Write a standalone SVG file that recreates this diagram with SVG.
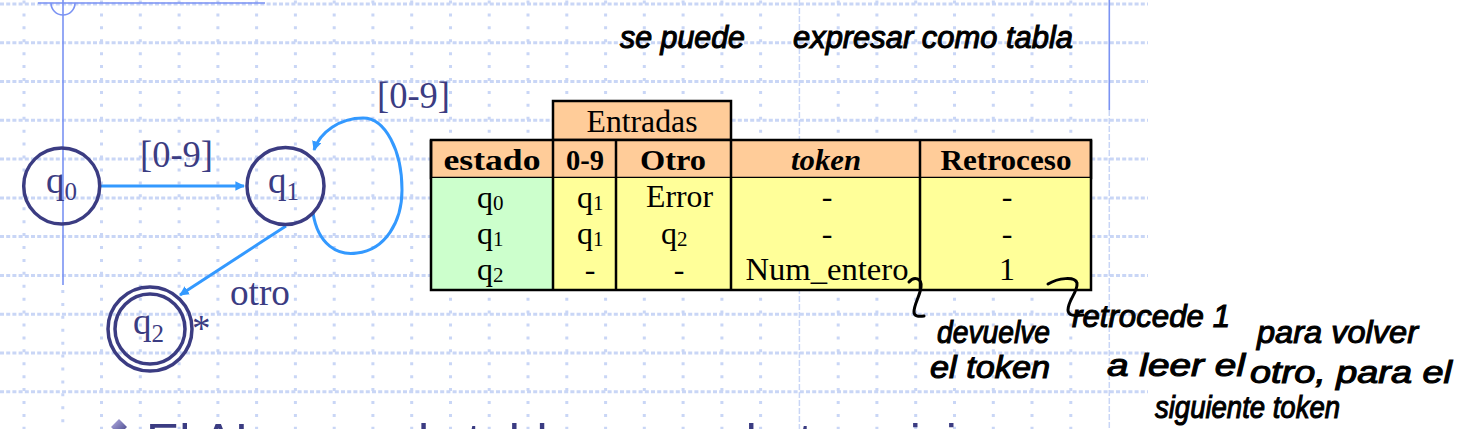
<svg xmlns="http://www.w3.org/2000/svg" width="1459" height="429" viewBox="0 0 1459 429">
<style>
.hg{stroke:#c9d6f6;stroke-width:3;stroke-dasharray:4 2.2;fill:none}
.vg{stroke:#c9d6f6;stroke-width:3;stroke-dasharray:3 9.92;fill:none}
.vd{stroke:#c9d6f6;stroke-width:1.5;stroke-dasharray:6 2;fill:none}
.deco{stroke:#7b93f3;stroke-width:1.6;fill:none}
.st{fill:none;stroke:#3b3c82;stroke-width:3.5}
.lbl{font-family:"Liberation Serif","Times New Roman",serif;font-size:37px;fill:#3b3c82}
.edge{stroke:#3399ff;stroke-width:3;fill:none}
.cell{stroke:#000;stroke-width:2.5}
.th{font-family:"Liberation Serif","Times New Roman",serif;font-size:30px;font-weight:bold;fill:#000;text-anchor:middle}
.td{font-family:"Liberation Serif","Times New Roman",serif;font-size:32px;fill:#000}
.tdm{text-anchor:middle}
.hw{font-family:"Liberation Sans",Arial,sans-serif;font-style:italic;font-size:32px;fill:#000;stroke:#000;stroke-width:1.1}
.hm{stroke:#000;stroke-width:3;fill:none;stroke-linecap:round}
.bt{font-family:"Liberation Sans",Arial,sans-serif;font-size:50px;fill:#3b3c82}
</style>
<defs>
<marker id="ah" viewBox="0 0 10 10" refX="9" refY="5" markerWidth="3.2" markerHeight="3.2" orient="auto" markerUnits="strokeWidth">
<path d="M0,0 L10,5 L0,10 z" fill="#3399ff"/>
</marker>
<linearGradient id="bul" x1="0" y1="0" x2="1" y2="1">
<stop offset="0" stop-color="#b9b3e6"/>
<stop offset="1" stop-color="#3b3c82"/>
</linearGradient>
</defs>
<rect width="1459" height="429" fill="#fff"/>
<g id="grid">
<path class="hg" d="M0,4H1148M0,42.8H1148M0,81.5H1148M0,120.3H1148M0,159.1H1148M0,197.9H1148M0,236.6H1148M0,275.4H1148M0,314.2H1148M0,352.9H1148M0,391.7H1148"/>
<path class="vg" d="M24,0.5V429M101.5,0.5V429M140.3,0.5V429M179.1,0.5V429M217.9,0.5V429M256.6,0.5V429M295.4,0.5V429M334.2,0.5V429M372.9,0.5V429M411.7,0.5V429M450.5,0.5V429M489.2,0.5V429M528,0.5V429M566.8,0.5V429M605.6,0.5V429M644.3,0.5V429M683.1,0.5V429M721.9,0.5V429M760.6,0.5V429M838.2,0.5V429M876.9,0.5V429M915.7,0.5V429M954.5,0.5V429M993.3,0.5V429M1032,0.5V429M1070.8,0.5V429M62.8,290V429"/>
<path class="vd" d="M799.4,0V429M1109.3,110V429"/>
</g>
<g id="decoration">
<path class="deco" d="M38,3H265M63,0V285M1109.3,0V110"/>
<path class="deco" d="M51,3A12,12 0 0 0 75,3"/>
</g>
<g id="connectors">
<path id="e-q0-q1" class="edge" d="M101,186H244" marker-end="url(#ah)"/>
<path id="e-q1-q1" class="edge" d="M313,213C318,245 338,256 357,253C385,250 402,222 402,190C402,150 385,118 363,118C340,118 320,132 314,150" marker-end="url(#ah)"/>
<path id="e-q1-q2" class="edge" d="M286,226L180,295" marker-end="url(#ah)"/>
<text class="lbl" x="140" y="167" textLength="73" lengthAdjust="spacingAndGlyphs">[0-9]</text>
<text class="lbl" x="377" y="108" textLength="73" lengthAdjust="spacingAndGlyphs">[0-9]</text>
<text class="lbl" x="230" y="305" textLength="60" lengthAdjust="spacingAndGlyphs">otro</text>
</g>
<g id="q0">
<circle class="st" cx="61.7" cy="186" r="38"/>
<text class="lbl" x="46" y="193">q<tspan font-size="25" dy="7">0</tspan></text>
</g>
<g id="q1">
<circle class="st" cx="285.5" cy="186" r="38.5"/>
<text class="lbl" x="268" y="193">q<tspan font-size="25" dy="7">1</tspan></text>
</g>
<g id="q2">
<circle class="st" cx="150" cy="329" r="42"/>
<circle class="st" cx="150" cy="329" r="35"/>
<text class="lbl" x="133" y="334">q<tspan font-size="25" dy="8">2</tspan></text>
<text class="lbl" x="192" y="341" font-size="32">*</text>
</g>
<g id="table">
<rect class="cell" x="553" y="101" width="178" height="39" fill="#ffcc99"/>
<rect class="cell" x="431" y="140" width="660" height="38" fill="#ffcc99"/>
<rect x="431" y="178" width="122" height="112" fill="#ccffcc"/>
<rect x="553" y="178" width="538" height="112" fill="#ffff99"/>
<path class="cell" fill="none" d="M431,140V290H1091V140M553,140V290M616,140V290M731,140V290M920,140V290"/>
<text class="td tdm" x="642" y="132" font-size="30" textLength="111" lengthAdjust="spacingAndGlyphs">Entradas</text>
<text class="th" x="492" y="170" textLength="97" lengthAdjust="spacingAndGlyphs">estado</text>
<text class="th" x="585" y="170" textLength="38" lengthAdjust="spacingAndGlyphs">0-9</text>
<text class="th" x="673" y="170" textLength="66" lengthAdjust="spacingAndGlyphs">Otro</text>
<text class="th" x="826" y="170" font-style="italic" textLength="70" lengthAdjust="spacingAndGlyphs">token</text>
<text class="th" x="1006" y="170" textLength="131" lengthAdjust="spacingAndGlyphs">Retroceso</text>
<text class="td" x="477" y="208">q<tspan font-size="21" dy="2">0</tspan></text>
<text class="td" x="477" y="244">q<tspan font-size="21" dy="2">1</tspan></text>
<text class="td" x="477" y="280">q<tspan font-size="21" dy="2">2</tspan></text>
<text class="td" x="577" y="208">q<tspan font-size="21" dy="2">1</tspan></text>
<text class="td" x="577" y="244">q<tspan font-size="21" dy="2">1</tspan></text>
<text class="td tdm" x="590" y="280">-</text>
<text class="td tdm" x="679.5" y="207" textLength="67" lengthAdjust="spacingAndGlyphs">Error</text>
<text class="td" x="661" y="244">q<tspan font-size="21" dy="2">2</tspan></text>
<text class="td tdm" x="679" y="280">-</text>
<text class="td tdm" x="827" y="207">-</text>
<text class="td tdm" x="827" y="244">-</text>
<text class="td tdm" x="827" y="280" textLength="163" lengthAdjust="spacingAndGlyphs">Num_entero</text>
<text class="td tdm" x="1007" y="207">-</text>
<text class="td tdm" x="1007" y="244">-</text>
<text class="td tdm" x="1007" y="280">1</text>
</g>
<g id="handwriting">
<path class="hm" d="M909,282C914,276 922,278 921,287C920,296 914,304 914,312C914,316 918,317 924,316"/>
<path class="hm" d="M1048,284C1058,278 1075,276 1077,283C1078,292 1068,300 1068,310C1068,316 1075,316 1083,315"/>
<text class="hw" x="620" y="48" font-size="35" textLength="125" lengthAdjust="spacingAndGlyphs">se puede</text>
<text class="hw" x="793" y="48" font-size="35" textLength="280" lengthAdjust="spacingAndGlyphs">expresar como tabla</text>
<text class="hw" x="937" y="343" textLength="113" lengthAdjust="spacingAndGlyphs">devuelve</text>
<text class="hw" x="930" y="378" textLength="120" lengthAdjust="spacingAndGlyphs">el token</text>
<text class="hw" x="1072" y="327" textLength="158" lengthAdjust="spacingAndGlyphs">retrocede 1</text>
<text class="hw" x="1257" y="343" textLength="161" lengthAdjust="spacingAndGlyphs">para volver</text>
<text class="hw" x="1107" y="376" textLength="138" lengthAdjust="spacingAndGlyphs">a leer el</text>
<text class="hw" x="1250" y="383" textLength="202" lengthAdjust="spacingAndGlyphs">otro, para el</text>
<text class="hw" x="1155" y="418" textLength="185" lengthAdjust="spacingAndGlyphs">siguiente token</text>
</g>
<g id="bottom">
<path d="M119,419L127,427L119,435L111,427Z" fill="url(#bul)"/>
<text class="bt" x="146" y="459">El AL usa <tspan x="418">la </tspan><tspan x="467">tabla</tspan><tspan x="729">de transiciones</tspan></text>
</g>
</svg>
